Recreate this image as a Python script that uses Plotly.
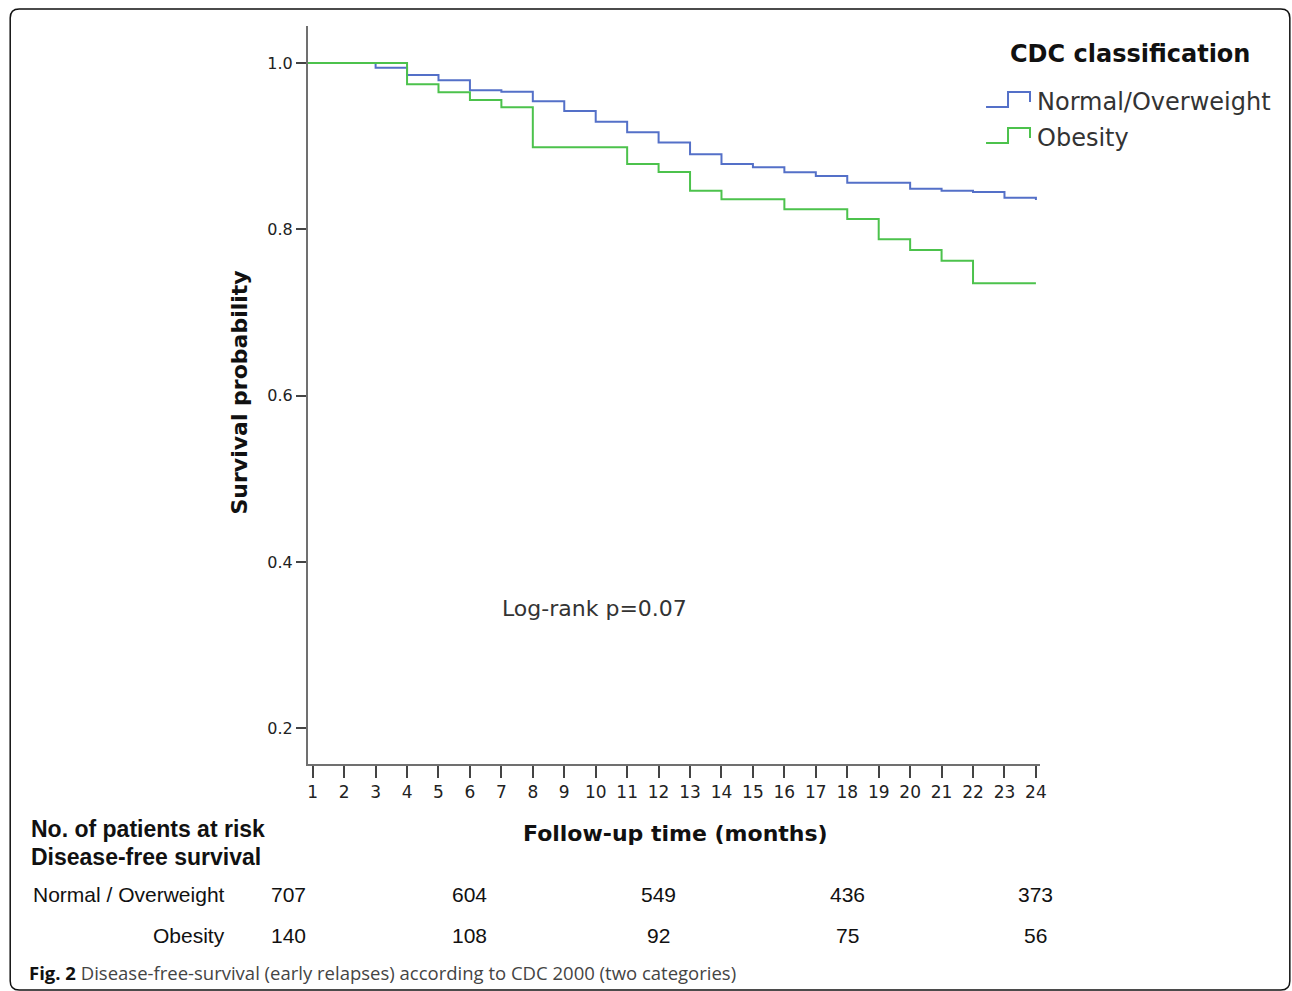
import plotly.graph_objects as go

# ---------------- data ----------------
times_normal = [0, 3, 4, 5, 6, 7, 8, 9, 10, 11, 12, 13, 14, 15, 16, 17, 18, 20, 21, 22, 23, 24]
surv_normal = [1.0, 0.9943, 0.9856, 0.9792, 0.9672, 0.9655, 0.9539, 0.9423, 0.9294, 0.9167,
               0.9044, 0.8902, 0.8785, 0.8746, 0.8686, 0.8641, 0.8560, 0.8488, 0.8464,
               0.8449, 0.8380, 0.8352]
times_obesity = [0, 4, 5, 6, 7, 8, 11, 12, 13, 14, 16, 18, 19, 20, 21, 22, 24]
surv_obesity = [1.0, 0.9744, 0.9648, 0.9555, 0.9467, 0.8986, 0.8785, 0.8689, 0.8464,
                0.8361, 0.8241, 0.8124, 0.7880, 0.7751, 0.7622, 0.7351, 0.7351]
series_names = ["Normal/Overweight", "Obesity"]
risk_labels = ["Normal / Overweight", "Obesity"]
risk_times = [0, 6, 12, 18, 24]
risk_normal = [707, 604, 549, 436, 373]
risk_obesity = [140, 108, 92, 75, 56]
y_ticks = [0.2, 0.4, 0.6, 0.8, 1.0]
x_ticks = list(range(1, 25))

# ---------------- styling ----------------
W, H = 1292, 991
L, R, T, B = 307.5, 1040, 26, 764          # plot area in pixels
XR = [0.85, 24.13]
YR = [0.157, 1.0445]
BLUE = "#5470c8"
GREEN = "#4cc24c"
AXIS = "#707070"
CHART_FONT = "DejaVu Sans"
TABLE_FONT = "Liberation Sans Narrow, Arial Narrow, Liberation Sans, Arial"
CAP_FONT = "Open Sans"


def px(x):
    return (x - L) / (R - L)


def py(y):
    return (B - y) / (B - T)


def month_px(m):
    return L + (m - XR[0]) / (XR[1] - XR[0]) * (R - L)


fig = go.Figure()
fig.add_trace(go.Scatter(x=times_normal, y=surv_normal, mode="lines", line_shape="hv",
                         line=dict(color=BLUE, width=2), name=series_names[0], showlegend=False))
fig.add_trace(go.Scatter(x=times_obesity, y=surv_obesity, mode="lines", line_shape="hv",
                         line=dict(color=GREEN, width=2), name=series_names[1], showlegend=False))

fig.update_layout(
    width=W, height=H,
    margin=dict(l=L, r=W - R, t=T, b=H - B, pad=0),
    plot_bgcolor="white", paper_bgcolor="white",
    font=dict(family=CHART_FONT, color="#222"),
    xaxis=dict(range=XR, tickvals=x_ticks, showgrid=False, zeroline=False,
               showline=True, linecolor=AXIS, linewidth=2,
               ticks="outside", ticklen=12, tickwidth=2, tickcolor="#444",
               tickfont=dict(family=CHART_FONT, size=17, color="#222")),
    yaxis=dict(range=YR, tickvals=y_ticks, ticktext=[f"{v:.1f}" for v in y_ticks],
               showgrid=False, zeroline=False,
               showline=True, linecolor=AXIS, linewidth=2,
               ticks="outside", ticklen=10, tickwidth=2, tickcolor="#444",
               tickfont=dict(family=CHART_FONT, size=16, color="#222")),
)

ann = []


def text(x, y, s, size, xanchor="left", bold=False, family=CHART_FONT, color="#222", angle=0):
    ann.append(dict(x=px(x), y=py(y), xref="paper", yref="paper", text=(f"<b>{s}</b>" if bold else s),
                    showarrow=False, xanchor=xanchor, yanchor="middle", textangle=angle,
                    font=dict(family=family, size=size, color=color)))


text(1130, 54, "CDC classification", 24, "center", bold=True, color="#111")
text(1035, 102, series_names[0], 24, color="#333")
text(1035, 138, series_names[1], 24, color="#333")
text(500, 608, "Log-rank p=0.07", 22, color="#333")
text(238, 393, "Survival probability", 22, "center", bold=True, color="#111", angle=-90)
text(675, 833, "Follow-up time (months)", 22, "center", bold=True, color="#111")

# number at risk table
text(28, 829, "No. of patients at risk", 23, bold=True, family=TABLE_FONT, color="#111")
text(28, 857, "Disease-free survival", 23, bold=True, family=TABLE_FONT, color="#111")
text(226, 894, risk_labels[0], 21, "right", family=TABLE_FONT, color="#111")
text(226, 935, risk_labels[1], 21, "right", family=TABLE_FONT, color="#111")
for i, (m, a, b) in enumerate(zip(risk_times, risk_normal, risk_obesity)):
    xx = month_px(m) + (7 if i == 0 else 0)
    text(xx, 894, str(a), 21, "center", family=TABLE_FONT, color="#111")
    text(xx, 935, str(b), 21, "center", family=TABLE_FONT, color="#111")

# caption
ann.append(dict(x=px(26), y=py(972), xref="paper", yref="paper", showarrow=False,
                xanchor="left", yanchor="middle",
                text="<b>Fig. 2</b> <span style='color:#444'>Disease-free-survival (early relapses) according to CDC 2000 (two categories)</span>",
                font=dict(family=CAP_FONT, size=18.5, color="#111")))

fig.update_layout(annotations=ann)

# legend step symbols and frame
shapes = []
for dy, col in [(0, BLUE), (36, GREEN)]:
    pts = [(986, 107 + dy), (1008, 107 + dy), (1008, 92 + dy), (1030, 92 + dy), (1030, 102 + dy)]
    path = "M " + " L ".join(f"{px(a)},{py(b)}" for a, b in pts)
    shapes.append(dict(type="path", path=path, xref="paper", yref="paper",
                       line=dict(color=col, width=2)))

x0, x1, y0, y1, r = 9.5, 1290, 9, 990, 9
frame = (f"M {px(x0 + r)},{py(y0)} L {px(x1 - r)},{py(y0)} Q {px(x1)},{py(y0)} {px(x1)},{py(y0 + r)} "
         f"L {px(x1)},{py(y1 - r)} Q {px(x1)},{py(y1)} {px(x1 - r)},{py(y1)} "
         f"L {px(x0 + r)},{py(y1)} Q {px(x0)},{py(y1)} {px(x0)},{py(y1 - r)} "
         f"L {px(x0)},{py(y0 + r)} Q {px(x0)},{py(y0)} {px(x0 + r)},{py(y0)} Z")
shapes.append(dict(type="path", path=frame, xref="paper", yref="paper",
                   line=dict(color="#111", width=1.5), layer="above"))
fig.update_layout(shapes=shapes)

fig.write_html("out.html", config={"displayModeBar": False},
               post_script="document.body.style.margin='0';")
